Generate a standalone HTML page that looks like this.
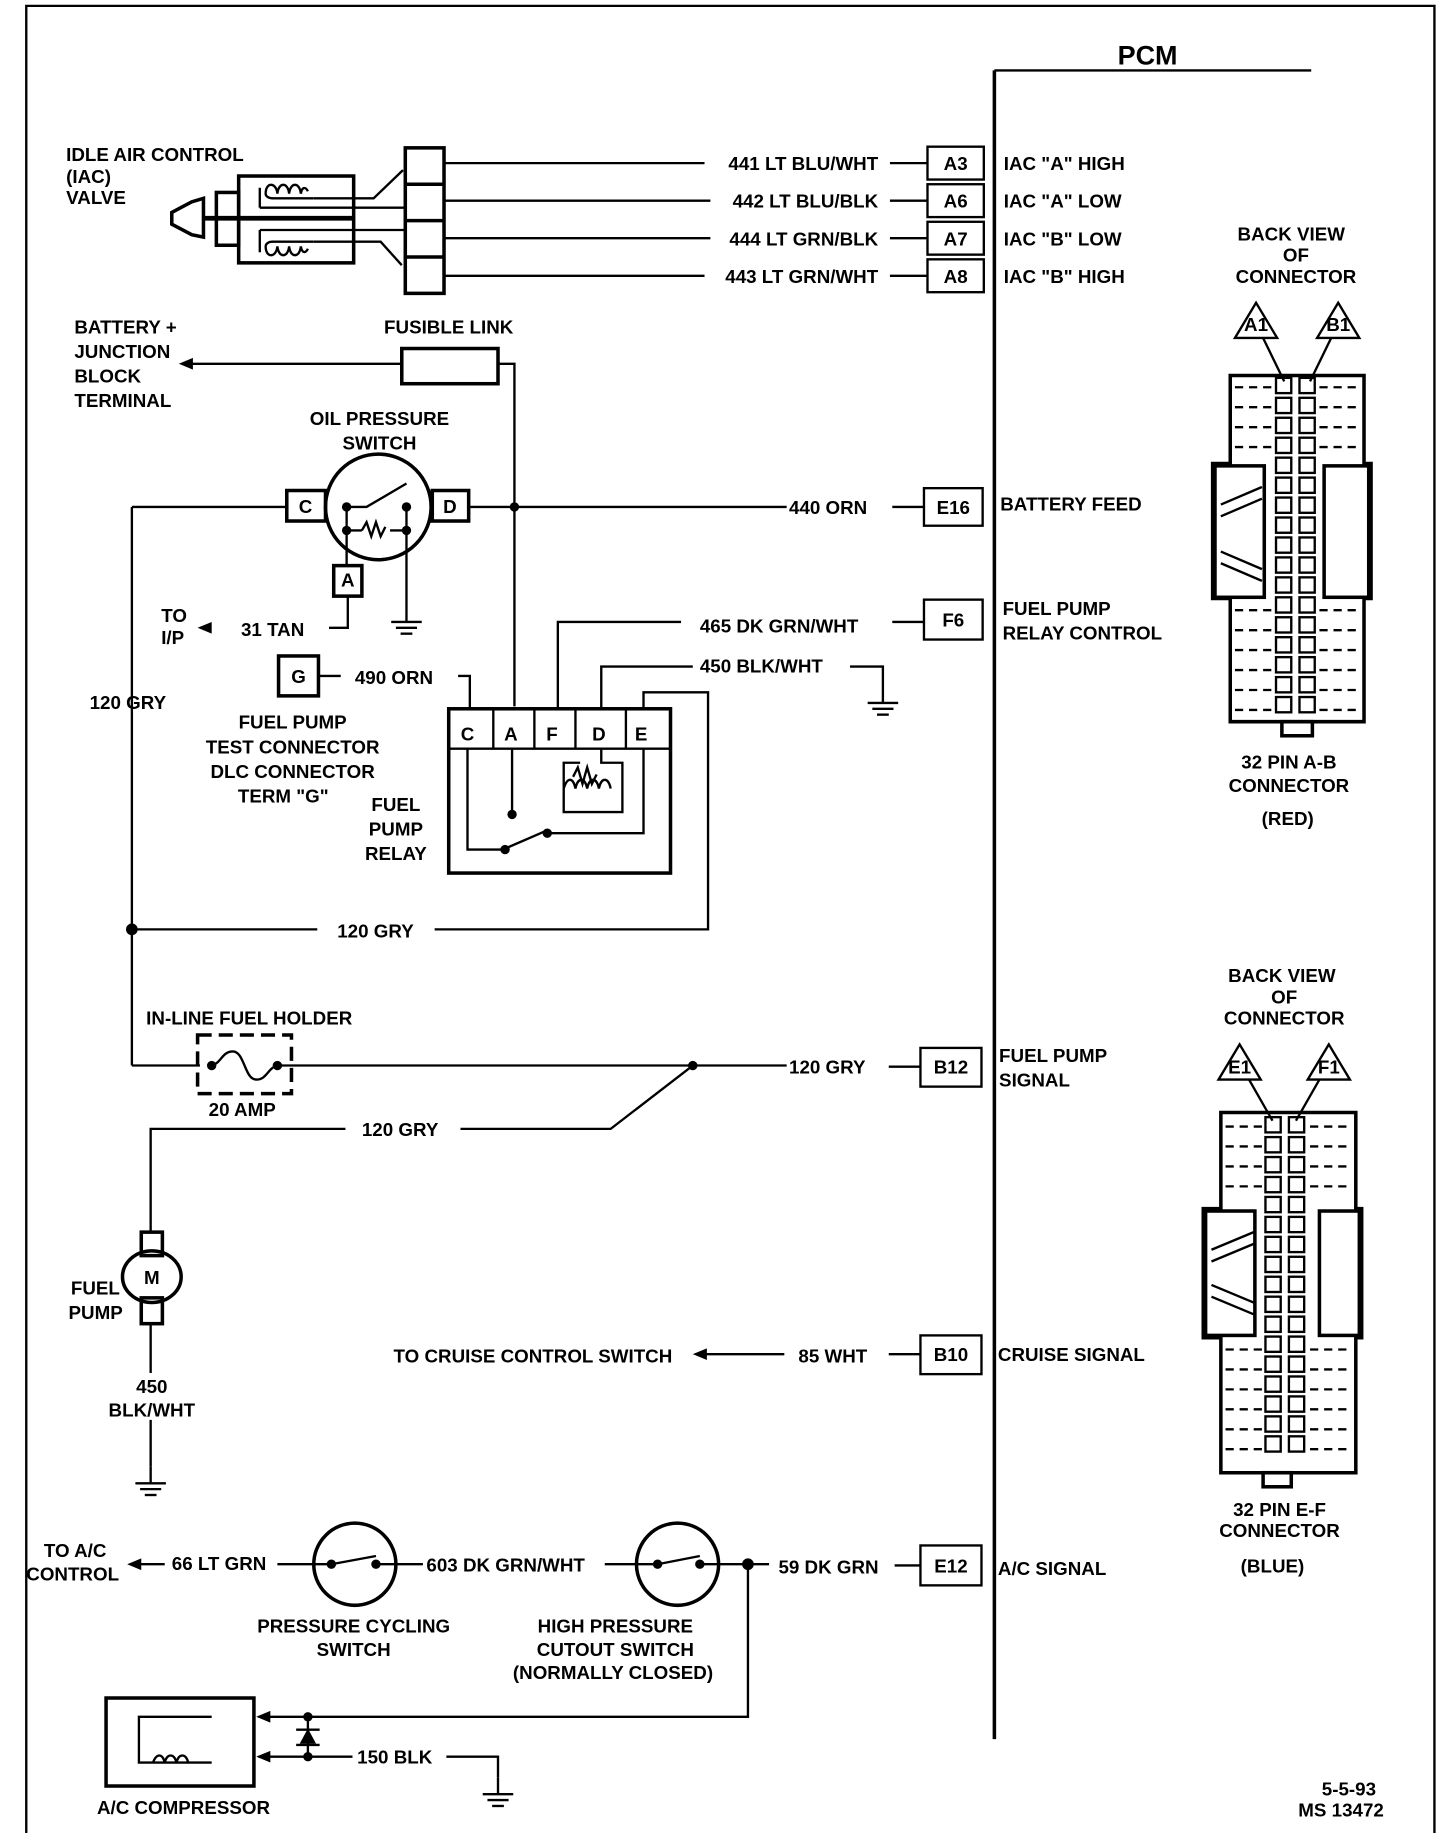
<!DOCTYPE html>
<html><head><meta charset="utf-8"><style>
html,body{margin:0;padding:0;background:#fff}
svg{display:block}
text{font-family:"Liberation Sans",sans-serif;font-weight:bold;font-size:16px;fill:#000}
</style></head><body>
<svg width="1456" height="1840" viewBox="0 0 1240 1568" xmlns="http://www.w3.org/2000/svg">
<defs>
<g id="gnd"><line x1="0" y1="0" x2="0" y2="14" stroke="#000" stroke-width="2"/><line x1="-13" y1="14" x2="13" y2="14" stroke="#000" stroke-width="2"/><line x1="-9" y1="19" x2="9" y2="19" stroke="#000" stroke-width="2"/><line x1="-5" y1="24" x2="5" y2="24" stroke="#000" stroke-width="2"/></g>
<g id="pinrow"><rect x="0" y="0" width="13" height="13" fill="none" stroke="#000" stroke-width="2"/><rect x="20" y="0" width="13" height="13" fill="none" stroke="#000" stroke-width="2"/></g>
<g id="dash"><line x1="0" y1="0" x2="32" y2="0" stroke="#000" stroke-width="2" stroke-dasharray="7,5"/></g>
</defs>
<g stroke="#000" stroke-width="2" fill="none">
<polyline points="22,1562 22,5 1222,5 1222,1562"/>
<line x1="847" y1="60" x2="847" y2="1482" stroke-width="3"/>
<line x1="847" y1="60" x2="1117" y2="60"/>
<rect x="790" y="125" width="48" height="28"/><rect x="790" y="157" width="48" height="28"/>
<rect x="790" y="189" width="48" height="28"/><rect x="790" y="221" width="48" height="28"/>
<rect x="787" y="416" width="50" height="32"/><rect x="787" y="511" width="50" height="34"/>
<rect x="784" y="893" width="52" height="33"/><rect x="784" y="1138" width="52" height="33"/>
<rect x="784" y="1317" width="52" height="34"/>
<line x1="758" y1="139" x2="790" y2="139"/><line x1="758" y1="171" x2="790" y2="171"/>
<line x1="758" y1="203" x2="790" y2="203"/><line x1="758" y1="235" x2="790" y2="235"/>
<line x1="760" y1="432" x2="787" y2="432"/><line x1="760" y1="530" x2="787" y2="530"/>
<line x1="757" y1="909" x2="784" y2="909"/><line x1="757" y1="1154" x2="784" y2="1154"/>
<line x1="762" y1="1334" x2="784" y2="1334"/>
<line x1="378" y1="139" x2="600" y2="139"/><line x1="378" y1="171" x2="605" y2="171"/>
<line x1="378" y1="203" x2="605" y2="203"/><line x1="378" y1="235" x2="600" y2="235"/>
<!-- IAC connector -->
<rect x="345" y="126" width="33" height="124" stroke-width="3"/>
<line x1="345" y1="157" x2="378" y2="157" stroke-width="3"/><line x1="345" y1="188" x2="378" y2="188" stroke-width="3"/><line x1="345" y1="219" x2="378" y2="219" stroke-width="3"/>
<!-- IAC valve -->
<rect x="203" y="150" width="98" height="74" stroke-width="3"/>
<rect x="184" y="164" width="19" height="45" stroke-width="3"/>
<polygon points="173,169 173,202 163,200 146,191 146,181 163,172" stroke-width="3"/>
<line x1="173" y1="186" x2="301" y2="186" stroke-width="4"/>
<path d="M267,169 H232 c-4,0 -6,-2 -6,-4 c0,-10 9,-10 10,0 c1,-10 9,-10 10,0 c1,-10 9,-10 10,0 c1,-6 4,-6 6,-2" />
<line x1="221" y1="160" x2="221" y2="177"/>
<path d="M267,206 H232 c-4,0 -6,2 -6,4 c0,10 9,10 10,0 c1,10 9,10 10,0 c1,10 9,10 10,0 c1,6 4,6 6,2" />
<line x1="221" y1="196" x2="221" y2="215"/>
<line x1="221" y1="177" x2="345" y2="177"/>
<line x1="221" y1="196" x2="345" y2="196"/>
<polyline points="267,169 318,169 343,145"/>
<polyline points="267,206 324,206 342,226"/>
<!-- fusible link -->
<rect x="342" y="297" width="82" height="30" stroke-width="3"/>
<line x1="342" y1="310" x2="160" y2="310"/>
<polyline points="424,310 438,310 438,602"/>
<!-- oil pressure switch -->
<circle cx="322" cy="432" r="45" stroke-width="3"/>
<rect x="244" y="418" width="33" height="26" stroke-width="3"/>
<rect x="368" y="418" width="31" height="26" stroke-width="3"/>
<line x1="399" y1="432" x2="670" y2="432"/>
<line x1="244" y1="432" x2="112" y2="432"/>
<line x1="112" y1="432" x2="112" y2="908"/>
<polyline points="295,432 312,432 346,412"/>
<polyline points="346,432 346,452 332,452"/>
<path d="M308,452 l4,-7 l4,12 l4,-12 l4,12 l4,-8" />
<polyline points="295,432 295,452 308,452"/>
<polyline points="295,452 295,482"/>
<polyline points="346,452 346,516"/>
<rect x="284" y="482" width="24" height="26" stroke-width="3"/>
<polyline points="296,508 296,535 280,535"/>
<rect x="237" y="559" width="34" height="34" stroke-width="3"/>
<line x1="271" y1="576" x2="290" y2="576"/>
<polyline points="390,576 400,576 400,604"/>
<!-- relay -->
<rect x="382" y="604" width="189" height="140" stroke-width="3"/>
<line x1="382" y1="638" x2="571" y2="638" stroke-width="2"/>
<line x1="420" y1="604" x2="420" y2="638"/><line x1="455" y1="604" x2="455" y2="638"/><line x1="490" y1="604" x2="490" y2="638"/><line x1="533" y1="604" x2="533" y2="638"/>
<polyline points="475,604 475,530 580,530"/>
<polyline points="512,604 512,568 590,568"/>
<polyline points="724,568 752,568 752,585"/>
<polyline points="548,604 548,590 603,590 603,792 370,792"/>
<polyline points="270,792 112,792"/>
<polyline points="398,638 398,724 428,724 465,708"/>
<polyline points="436,638 436,694"/>
<polyline points="466,710 548,710 548,638"/>
<polyline points="512,638 512,650 530,650 530,692 480,692 480,650 494,650"/>
<path d="M480,672 c3,-10 8,-10 10,0 c2,-10 8,-10 10,0 c2,-10 8,-10 10,0 c2,-10 8,-10 10,0"/>
<path d="M488,662 l4,-8 l4,14 l4,-14 l4,14 l4,-8"/>
<!-- in-line fuse -->
<line x1="112" y1="908" x2="170" y2="908"/>
<rect x="168" y="882" width="80" height="50" stroke-width="3" stroke-dasharray="12,6"/>
<path d="M178,908 c10,0 10,-12 20,-12 c10,0 10,24 20,24 c10,0 10,-12 20,-12"/>
<line x1="238" y1="908" x2="670" y2="908"/>
<polyline points="590,908 520,962 392,962"/>
<polyline points="294,962 128,962 128,1050"/>
<rect x="120" y="1050" width="18" height="20" stroke-width="3"/>
<ellipse cx="129" cy="1088" rx="25" ry="22" stroke-width="3"/>
<rect x="120" y="1106" width="18" height="22" stroke-width="3"/>
<line x1="128" y1="1128" x2="128" y2="1170"/>
<line x1="128" y1="1210" x2="128" y2="1250"/>
<line x1="598" y1="1154" x2="668" y2="1154"/>
<line x1="118" y1="1333" x2="140" y2="1333"/>
<line x1="236" y1="1333" x2="266" y2="1333"/>
<circle cx="302" cy="1333" r="35" stroke-width="3"/>
<polyline points="266,1333 282,1333 320,1326"/>
<line x1="320" y1="1333" x2="360" y2="1333"/>
<line x1="515" y1="1333" x2="542" y2="1333"/>
<circle cx="577" cy="1333" r="35" stroke-width="3"/>
<polyline points="542,1333 560,1333 596,1326"/>
<line x1="596" y1="1333" x2="655" y2="1333"/>
<polyline points="637,1333 637,1463 220,1463"/>
<rect x="90" y="1447" width="126" height="75" stroke-width="3"/>
<polyline points="180,1463 118,1463 118,1502 180,1502"/>
<path d="M130,1502 c3,-8 8,-8 10,0 c2,-8 8,-8 10,0 c2,-8 8,-8 10,0"/>
<line x1="220" y1="1497" x2="300" y2="1497"/>
<polyline points="380,1497 424,1497 424,1515"/>
<line x1="262" y1="1463" x2="262" y2="1497"/>
<line x1="252" y1="1474" x2="272" y2="1474"/>
<line x1="252" y1="1487" x2="272" y2="1487"/>
</g>
<g fill="#000">
<polygon points="152,310 164,305 164,315"/>
<polygon points="168,535 180,530 180,540"/>
<polygon points="590,1154 602,1149 602,1159"/>
<polygon points="108,1333 120,1328 120,1338"/>
<polygon points="218,1463 230,1458 230,1468"/>
<polygon points="218,1497 230,1492 230,1502"/>
<polygon points="262,1473 255,1486 269,1486"/>
<circle cx="438" cy="432" r="4"/><circle cx="112" cy="792" r="5"/><circle cx="590" cy="908" r="4"/>
<circle cx="637" cy="1333" r="5"/><circle cx="262" cy="1463" r="4"/><circle cx="262" cy="1497" r="4"/>
<circle cx="295" cy="432" r="4"/><circle cx="346" cy="432" r="4"/><circle cx="295" cy="452" r="4"/><circle cx="346" cy="452" r="4"/>
<circle cx="436" cy="694" r="4"/><circle cx="430" cy="724" r="4"/><circle cx="466" cy="710" r="4"/>
<circle cx="180" cy="908" r="4"/><circle cx="236" cy="908" r="4"/>
<circle cx="282" cy="1333" r="4"/><circle cx="320" cy="1333" r="4"/><circle cx="560" cy="1333" r="4"/><circle cx="596" cy="1333" r="4"/>
</g>
<use href="#gnd" x="346" y="516"/><use href="#gnd" x="752" y="585"/><use href="#gnd" x="128" y="1250"/><use href="#gnd" x="424" y="1515"/>
<!-- connector 1 -->
<g stroke="#000" stroke-width="3" fill="none">
<polygon points="1048,320 1162,320 1162,395 1168,395 1168,510 1162,510 1162,615 1048,615 1048,510 1033,510 1033,395 1048,395"/>
<rect x="1035" y="397" width="42" height="112"/>
<rect x="1128" y="397" width="38" height="112"/>
<rect x="1092" y="615" width="26" height="12"/>
</g>
<g>
<use href="#pinrow" x="1087" y="322"/><use href="#pinrow" x="1087" y="339"/><use href="#pinrow" x="1087" y="356"/><use href="#pinrow" x="1087" y="373"/>
<use href="#pinrow" x="1087" y="390"/><use href="#pinrow" x="1087" y="407"/><use href="#pinrow" x="1087" y="424"/><use href="#pinrow" x="1087" y="441"/>
<use href="#pinrow" x="1087" y="458"/><use href="#pinrow" x="1087" y="475"/><use href="#pinrow" x="1087" y="492"/><use href="#pinrow" x="1087" y="509"/>
<use href="#pinrow" x="1087" y="526"/><use href="#pinrow" x="1087" y="543"/><use href="#pinrow" x="1087" y="560"/><use href="#pinrow" x="1087" y="577"/><use href="#pinrow" x="1087" y="594"/>
<use href="#dash" x="1052" y="330"/><use href="#dash" x="1052" y="347"/><use href="#dash" x="1052" y="364"/><use href="#dash" x="1052" y="381"/>
<use href="#dash" x="1124" y="330"/><use href="#dash" x="1124" y="347"/><use href="#dash" x="1124" y="364"/><use href="#dash" x="1124" y="381"/>
<use href="#dash" x="1052" y="520"/><use href="#dash" x="1052" y="537"/><use href="#dash" x="1052" y="554"/><use href="#dash" x="1052" y="571"/><use href="#dash" x="1052" y="588"/><use href="#dash" x="1052" y="605"/>
<use href="#dash" x="1124" y="520"/><use href="#dash" x="1124" y="537"/><use href="#dash" x="1124" y="554"/><use href="#dash" x="1124" y="571"/><use href="#dash" x="1124" y="588"/><use href="#dash" x="1124" y="605"/>
</g>
<g stroke="#000" stroke-width="2" fill="none">
<polygon points="1070,258 1052,288 1088,288"/><polygon points="1140,258 1122,288 1158,288"/>
<line x1="1076" y1="288" x2="1094" y2="325"/><line x1="1134" y1="288" x2="1116" y2="325"/>
<polyline points="1040,430 1075,415"/><polyline points="1040,440 1075,425"/><polyline points="1040,470 1075,485"/><polyline points="1040,480 1075,495"/>
</g>
<!-- connector 2 -->
<g stroke="#000" stroke-width="3" fill="none">
<polygon points="1040,948 1155,948 1155,1030 1160,1030 1160,1140 1155,1140 1155,1255 1040,1255 1040,1140 1025,1140 1025,1030 1040,1030"/>
<rect x="1027" y="1032" width="42" height="106"/>
<rect x="1124" y="1032" width="34" height="106"/>
<rect x="1076" y="1255" width="24" height="12"/>
</g>
<g>
<use href="#pinrow" x="1078" y="952"/><use href="#pinrow" x="1078" y="969"/><use href="#pinrow" x="1078" y="986"/><use href="#pinrow" x="1078" y="1003"/>
<use href="#pinrow" x="1078" y="1020"/><use href="#pinrow" x="1078" y="1037"/><use href="#pinrow" x="1078" y="1054"/><use href="#pinrow" x="1078" y="1071"/>
<use href="#pinrow" x="1078" y="1088"/><use href="#pinrow" x="1078" y="1105"/><use href="#pinrow" x="1078" y="1122"/><use href="#pinrow" x="1078" y="1139"/>
<use href="#pinrow" x="1078" y="1156"/><use href="#pinrow" x="1078" y="1173"/><use href="#pinrow" x="1078" y="1190"/><use href="#pinrow" x="1078" y="1207"/><use href="#pinrow" x="1078" y="1224"/>
<use href="#dash" x="1044" y="960"/><use href="#dash" x="1044" y="977"/><use href="#dash" x="1044" y="994"/><use href="#dash" x="1044" y="1011"/>
<use href="#dash" x="1116" y="960"/><use href="#dash" x="1116" y="977"/><use href="#dash" x="1116" y="994"/><use href="#dash" x="1116" y="1011"/>
<use href="#dash" x="1044" y="1150"/><use href="#dash" x="1044" y="1167"/><use href="#dash" x="1044" y="1184"/><use href="#dash" x="1044" y="1201"/><use href="#dash" x="1044" y="1218"/><use href="#dash" x="1044" y="1235"/>
<use href="#dash" x="1116" y="1150"/><use href="#dash" x="1116" y="1167"/><use href="#dash" x="1116" y="1184"/><use href="#dash" x="1116" y="1201"/><use href="#dash" x="1116" y="1218"/><use href="#dash" x="1116" y="1235"/>
</g>
<g stroke="#000" stroke-width="2" fill="none">
<polygon points="1056,890 1038,920 1074,920"/><polygon points="1132,890 1114,920 1150,920"/>
<line x1="1064" y1="920" x2="1084" y2="955"/><line x1="1124" y1="920" x2="1104" y2="955"/>
<polyline points="1032,1065 1068,1050"/><polyline points="1032,1075 1068,1060"/><polyline points="1032,1095 1068,1110"/><polyline points="1032,1105 1068,1120"/>
</g>
<text x="952" y="55" style="font-size:23px">PCM</text>
<g text-anchor="end">
<text x="748" y="145">441 LT BLU/WHT</text><text x="748" y="177">442 LT BLU/BLK</text>
<text x="748" y="209">444 LT GRN/BLK</text><text x="748" y="241">443 LT GRN/WHT</text>
</g>
<g text-anchor="middle">
<text x="814" y="145">A3</text><text x="814" y="177">A6</text><text x="814" y="209">A7</text><text x="814" y="241">A8</text>
<text x="812" y="438">E16</text><text x="812" y="534">F6</text><text x="810" y="915">B12</text><text x="810" y="1160">B10</text><text x="810" y="1340">E12</text>
<text x="260" y="437">C</text><text x="383" y="437">D</text><text x="296" y="500">A</text><text x="254" y="582">G</text>
<text x="398" y="631">C</text><text x="435" y="631">A</text><text x="470" y="631">F</text><text x="510" y="631">D</text><text x="546" y="631">E</text>
<text x="129" y="1094">M</text>
<text x="1100" y="205">BACK VIEW</text><text x="1104" y="223">OF</text><text x="1104" y="241">CONNECTOR</text>
<text x="1070" y="282">A1</text><text x="1140" y="282">B1</text>
<text x="1098" y="655">32 PIN A-B</text><text x="1098" y="675">CONNECTOR</text><text x="1097" y="703">(RED)</text>
<text x="1092" y="837">BACK VIEW</text><text x="1094" y="855">OF</text><text x="1094" y="873">CONNECTOR</text>
<text x="1056" y="915">E1</text><text x="1132" y="915">F1</text>
<text x="1090" y="1292">32 PIN E-F</text><text x="1090" y="1310">CONNECTOR</text><text x="1084" y="1340">(BLUE)</text>
<text x="323" y="362">OIL PRESSURE</text><text x="323" y="383">SWITCH</text>
<text x="382" y="284">FUSIBLE LINK</text>
<text x="249" y="621">FUEL PUMP</text><text x="249" y="642">TEST CONNECTOR</text><text x="249" y="663">DLC CONNECTOR</text><text x="241" y="684">TERM "G"</text>
<text x="337" y="691">FUEL</text><text x="337" y="712">PUMP</text><text x="337" y="733">RELAY</text>
<text x="212" y="873">IN-LINE FUEL HOLDER</text><text x="206" y="951">20 AMP</text>
<text x="129" y="1187">450</text><text x="129" y="1207">BLK/WHT</text>
<text x="301" y="1391">PRESSURE CYCLING</text><text x="301" y="1411">SWITCH</text>
<text x="524" y="1391">HIGH PRESSURE</text><text x="524" y="1411">CUTOUT SWITCH</text><text x="522" y="1431">(NORMALLY CLOSED)</text>
<text x="156" y="1546">A/C COMPRESSOR</text>
</g>
<text x="855" y="145">IAC "A" HIGH</text><text x="855" y="177">IAC "A" LOW</text><text x="855" y="209">IAC "B" LOW</text><text x="855" y="241">IAC "B" HIGH</text>
<text x="852" y="435">BATTERY FEED</text>
<text x="854" y="524">FUEL PUMP</text><text x="854" y="545">RELAY CONTROL</text>
<text x="851" y="905">FUEL PUMP</text><text x="851" y="926">SIGNAL</text>
<text x="850" y="1160">CRUISE SIGNAL</text><text x="850" y="1342">A/C SIGNAL</text>
<text x="56" y="137">IDLE AIR CONTROL</text><text x="56" y="156">(IAC)</text><text x="56" y="174">VALVE</text>
<text x="63" y="284">BATTERY +</text><text x="63" y="305">JUNCTION</text><text x="63" y="326">BLOCK</text><text x="63" y="347">TERMINAL</text>
<text x="672" y="438">440 ORN</text><text x="596" y="539">465 DK GRN/WHT</text><text x="596" y="573">450 BLK/WHT</text>
<text x="302" y="583">490 ORN</text><text x="205" y="542">31 TAN</text>
<text x="137" y="530">TO</text><text x="137" y="549">I/P</text>
<text x="76" y="604">120 GRY</text><text x="287" y="799">120 GRY</text><text x="672" y="915">120 GRY</text><text x="308" y="968">120 GRY</text>
<text x="60" y="1103">FUEL</text><text x="58" y="1124">PUMP</text>
<text x="335" y="1161">TO CRUISE CONTROL SWITCH</text><text x="680" y="1161">85 WHT</text>
<text x="37" y="1327">TO A/C</text><text x="22" y="1347">CONTROL</text>
<text x="146" y="1338">66 LT GRN</text><text x="363" y="1339">603 DK GRN/WHT</text><text x="663" y="1341">59 DK GRN</text>
<text x="304" y="1503">150 BLK</text>
<text x="1126" y="1530">5-5-93</text><text x="1106" y="1548">MS 13472</text>
</svg>
</body></html>
